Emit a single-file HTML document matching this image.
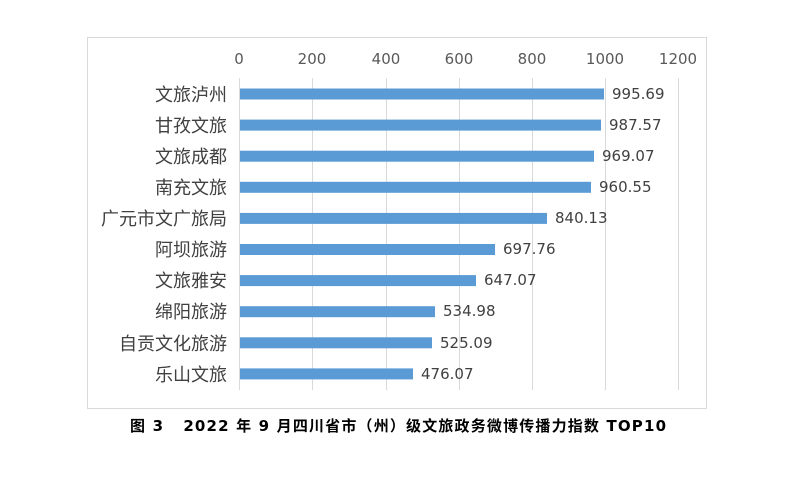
<!DOCTYPE html>
<html><head><meta charset="utf-8"><style>
body{margin:0;background:#fff;width:800px;height:478px;overflow:hidden}
</style></head><body>
<svg width="800" height="478" xmlns="http://www.w3.org/2000/svg" font-family="'DejaVu Sans','Noto Sans CJK SC',sans-serif">
<rect x="87.5" y="37.5" width="619" height="371" fill="#fff" stroke="#d9d9d9"/>
<g stroke="#d9d9d9" stroke-width="1">
<line x1="239.5" y1="78" x2="239.5" y2="390"/>
<line x1="312.5" y1="78" x2="312.5" y2="390"/>
<line x1="386.5" y1="78" x2="386.5" y2="390"/>
<line x1="459.5" y1="78" x2="459.5" y2="390"/>
<line x1="532.5" y1="78" x2="532.5" y2="390"/>
<line x1="605.5" y1="78" x2="605.5" y2="390"/>
<line x1="678.5" y1="78" x2="678.5" y2="390"/>
</g>
<g font-size="15" fill="#595959" text-anchor="middle">
<text x="239" y="64">0</text><text x="312" y="64">200</text><text x="386" y="64">400</text><text x="459" y="64">600</text><text x="532" y="64">800</text><text x="605" y="64">1000</text><text x="678" y="64">1200</text>
</g>
<g fill="#5b9bd5">
<rect x="240" y="88.5" width="364" height="11"/>
<rect x="240" y="119.6" width="361" height="11"/>
<rect x="240" y="150.7" width="354" height="11"/>
<rect x="240" y="181.8" width="351" height="11"/>
<rect x="240" y="212.9" width="307" height="11"/>
<rect x="240" y="244" width="255" height="11"/>
<rect x="240" y="275.1" width="236" height="11"/>
<rect x="240" y="306.2" width="195" height="11"/>
<rect x="240" y="337.3" width="192" height="11"/>
<rect x="240" y="368.4" width="173" height="11"/>
</g>
<g font-size="15" fill="#404040">
<text x="612" y="99">995.69</text>
<text x="609" y="130">987.57</text>
<text x="602" y="161">969.07</text>
<text x="599" y="192">960.55</text>
<text x="555" y="223">840.13</text>
<text x="503" y="254">697.76</text>
<text x="484" y="285">647.07</text>
<text x="443" y="316">534.98</text>
<text x="440" y="348">525.09</text>
<text x="421" y="379">476.07</text>
</g>
<g font-size="18" fill="#404040" text-anchor="end">
<text x="227" y="101">文旅泸州</text>
<text x="227" y="132">甘孜文旅</text>
<text x="227" y="163">文旅成都</text>
<text x="227" y="194">南充文旅</text>
<text x="227" y="225">广元市文广旅局</text>
<text x="227" y="256">阿坝旅游</text>
<text x="227" y="287">文旅雅安</text>
<text x="227" y="318">绵阳旅游</text>
<text x="227" y="350">自贡文化旅游</text>
<text x="227" y="381">乐山文旅</text>
</g>
<text x="130" y="431" font-size="15" font-weight="bold" fill="#000" textLength="536" lengthAdjust="spacing" xml:space="preserve" style="white-space:pre">图 3   2022 年 9 月四川省市（州）级文旅政务微博传播力指数 TOP10</text>
</svg>
</body></html>
